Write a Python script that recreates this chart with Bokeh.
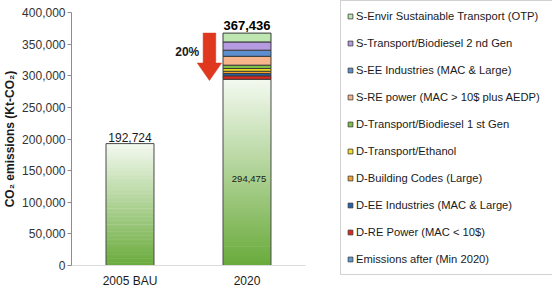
from bokeh.plotting import figure
from bokeh.layouts import row
from bokeh.models import (FactorRange, FixedTicker, NumeralTickFormatter, Legend,
                          LegendItem, Range1d)
from bokeh.core.properties import value
from bokeh.embed import file_html
from bokeh.resources import INLINE

# ---------------- data ----------------
categories = ["2005 BAU", "2020"]
bau_2005 = 192724
base_2020 = 294475  # Emissions after (Min 2020)

# stacked reductions, bottom to top
seg_names = [
    "D-RE Power (MAC < 10$)",
    "D-EE Industries (MAC & Large)",
    "D-Building Codes (Large)",
    "D-Transport/Ethanol",
    "D-Transport/Biodiesel 1 st Gen",
    "S-RE power (MAC > 10$ plus AEDP)",
    "S-EE Industries (MAC & Large)",
    "S-Transport/Biodiesel 2 nd Gen",
    "S-Envir Sustainable Transport (OTP)",
]
seg_values = [5361, 3600, 3700, 4300, 5300, 14000, 9700, 13000, 14000]
seg_colors = ["#e0261c", "#2462ad", "#f0a42c", "#f4e01c", "#7cc143",
              "#f8b58c", "#5b8fd0", "#b69be2", "#bde6b0"]
base_name = "Emissions after (Min 2020)"
base_legend_color = "#5b9bd5"

y_ticks = [0, 50000, 100000, 150000, 200000, 250000, 300000, 350000, 400000]

FONT = "Liberation Sans"

# ---------------- chart figure ----------------
p = figure(x_range=FactorRange(*categories, range_padding=0), y_range=(0, 400000),
           width=340, height=290, output_backend="svg", toolbar_location=None,
           min_border_left=65, min_border_right=35, min_border_top=12,
           min_border_bottom=23)
p.x_range.factor_padding = 0
p.outline_line_color = None
p.xgrid.grid_line_color = None
p.ygrid.grid_line_color = None
p.background_fill_color = "white"
p.border_fill_color = "white"

bar_w = 0.41


def hexmix(c1, c2, t):
    a = [int(c1[i:i + 2], 16) for i in (1, 3, 5)]
    b = [int(c2[i:i + 2], 16) for i in (1, 3, 5)]
    return "#%02x%02x%02x" % tuple(round(a[k] + (b[k] - a[k]) * t) for k in range(3))


# gradient-filled green bars (drawn as thin slices)
g_bottom, g_top = "#6aab3c", "#f3f9ef"
N = 90
for cat, v in zip(categories, [bau_2005, base_2020]):
    xs, bots, tops, cols = [], [], [], []
    for i in range(N):
        xs.append(cat)
        bots.append(v * i / N)
        tops.append(v * (i + 1) / N + v * 0.004)
        cols.append(hexmix(g_bottom, g_top, i / (N - 1)))
    tops[-1] = v
    p.vbar(x=xs, bottom=bots, top=tops, width=bar_w, fill_color=cols, line_color=None)
    p.vbar(x=[cat], bottom=[0], top=[v], width=bar_w, fill_alpha=0,
           line_color="#4a4a4a", line_width=1)

# stacked segments for 2020
bottom = base_2020
for name, val, col in zip(seg_names, seg_values, seg_colors):
    p.vbar(x=["2020"], bottom=[bottom], top=[bottom + val], width=bar_w,
           fill_color=col, line_color="#3a3a3a", line_width=1)
    bottom += val
total_2020 = bottom

# value labels
p.text(x=["2005 BAU"], y=[bau_2005], text=[f"{bau_2005:,}"], text_align="center",
       text_baseline="bottom", y_offset=-2, text_font=value(FONT),
       text_font_size="12px", text_color="#1a1a1a")
p.text(x=["2020"], y=[total_2020], text=[f"{total_2020:,}"], text_align="center",
       text_baseline="bottom", y_offset=-3, text_font=value(FONT),
       text_font_size="13px", text_font_style="bold", text_color="#000000")
p.text(x=["2020"], y=[base_2020 / 2], text=[f"{base_2020:,}"], text_align="center",
       text_baseline="middle", x_offset=2, y_offset=7, text_font=value(FONT),
       text_font_size="9.5px", text_color="#1a1a1a")

# reduction arrow
cx = categories.index("2020") + 0.5 - 0.321
sw, hw = 0.054, 0.104
y_top = total_2020
y_head = base_2020 + 0.35 * (total_2020 - base_2020)
y_tip = base_2020 - 2000
p.patch(x=[cx - sw, cx + sw, cx + sw, cx + hw, cx, cx - hw, cx - sw],
        y=[y_top, y_top, y_head, y_head, y_tip, y_head, y_head],
        fill_color="#e0371f", line_color="#d8341c", line_width=0.5)
pct = round(100 * (total_2020 - base_2020) / total_2020)
p.text(x=[cx - 0.087], y=[base_2020 + 0.6 * (total_2020 - base_2020)],
       text=[f"{pct}%"], text_align="right", text_baseline="middle",
       text_font=value(FONT), text_font_size="12px", text_font_style="bold",
       text_color="#1a1a1a")

# axes
p.yaxis.ticker = FixedTicker(ticks=y_ticks)
p.yaxis.formatter = NumeralTickFormatter(format="0,0")
p.yaxis.axis_label = "CO\u2082 emissions (Kt-CO\u2082)"
p.yaxis.axis_label_text_font = FONT
p.yaxis.axis_label_text_font_style = "bold"
p.yaxis.axis_label_text_font_size = "12px"
p.yaxis.axis_label_text_color = "#1a1a1a"
p.yaxis.axis_label_standoff = 2
p.yaxis.major_label_text_font = FONT
p.yaxis.major_label_text_font_size = "12px"
p.yaxis.major_label_text_color = "#333333"
p.yaxis.major_label_standoff = 2
p.yaxis.axis_line_color = "#8c8c8c"
p.yaxis.major_tick_line_color = "#8c8c8c"
p.yaxis.major_tick_out = 4
p.yaxis.major_tick_in = 0
p.yaxis.minor_tick_line_color = None

p.xaxis.axis_line_color = "#dcdcdc"
p.xaxis.major_tick_line_color = None
p.xaxis.major_label_text_font = FONT
p.xaxis.major_label_text_font_size = "12px"
p.xaxis.major_label_text_color = "#1a1a1a"
p.xaxis.major_label_standoff = 8
p.xaxis.major_tick_out = 0

# ---------------- legend figure ----------------
lg = figure(width=212, height=290, output_backend="svg", toolbar_location=None,
            title=None,
            x_range=Range1d(0, 1), y_range=Range1d(0, 1),
            x_axis_location=None, y_axis_location=None,
            min_border=0, min_border_left=0, min_border_right=0,
            min_border_top=0, min_border_bottom=0)
lg.frame_align = False
lg.outline_line_color = None
lg.xgrid.grid_line_color = None
lg.ygrid.grid_line_color = None
lg.border_fill_color = "white"
lg.background_fill_color = "white"

legend_names = list(reversed(seg_names)) + [base_name]
legend_colors = list(reversed(seg_colors)) + [base_legend_color]
items = []
for name, col in zip(legend_names, legend_colors):
    # legend-only proxy marker, kept outside the (empty) legend panel's range
    r = lg.scatter(x=[5], y=[5], marker="square", fill_color=col,
                   line_color="#3a3a3a", line_width=0.8)
    items.append(LegendItem(label=name, renderers=[r]))

legend = Legend(items=items, location="top_left", orientation="vertical",
                padding=3, spacing=3, margin=0,
                glyph_width=12, glyph_height=24, label_height=24,
                label_width=193, label_standoff=0,
                label_text_font=FONT, label_text_font_size="11.2px",
                label_text_color="#1a1a1a",
                border_line_color="#a6a6a6", border_line_width=1,
                background_fill_color="white", background_fill_alpha=1)
lg.add_layout(legend, "center")

layout = row(p, lg, spacing=0)
open("out.html", "w").write(file_html(layout, INLINE))
